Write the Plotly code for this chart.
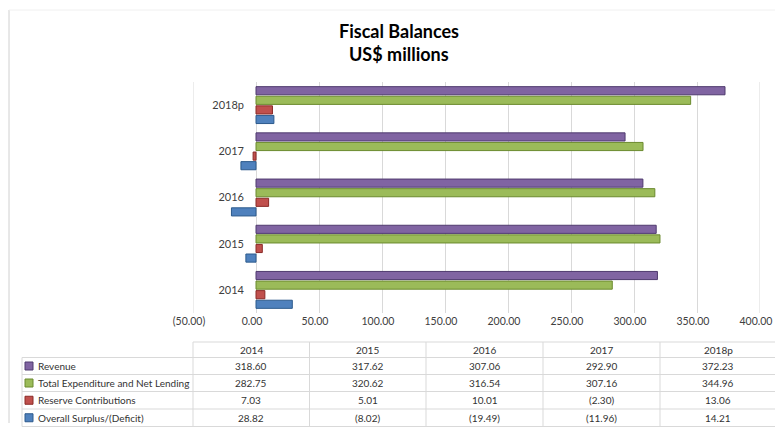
import plotly.graph_objects as go

# ---- data ----
years = ["2014", "2015", "2016", "2017", "2018p"]
revenue = [318.60, 317.62, 307.06, 292.90, 372.23]
expenditure = [282.75, 320.62, 316.54, 307.16, 344.96]
reserve = [7.03, 5.01, 10.01, -2.30, 13.06]
surplus = [28.82, -8.02, -19.49, -11.96, 14.21]
series_names = ["Revenue", "Total Expenditure and Net Lending",
                "Reserve Contributions", "Overall Surplus/(Deficit)"]
x_ticks = [-50, 0, 50, 100, 150, 200, 250, 300, 350, 400]

# ---- styles ----
W, H = 775, 433
L, R, T, B = 193, 760, 82, 313
colors = ["#8064A2", "#9BBB59", "#C0504D", "#4F81BD"]
edges = ["#4F3A6E", "#6B8A2E", "#8A2A27", "#2C5A8C"]
FONT = "Lato"
TXT = "#404040"


def fmt(v):
    return f"({abs(v):.2f})" if v < 0 else f"{v:.2f}"


def px(xp):
    return (xp - L) / (R - L)


def py(yp):
    return (B - yp) / (B - T)


series = [revenue, expenditure, reserve, surplus]

fig = go.Figure()
# plotly places first trace lowest in a horizontal group -> add in reverse
for i in [3, 2, 1, 0]:
    fig.add_trace(go.Bar(
        y=years, x=series[i], orientation="h", name=series_names[i],
        marker=dict(color=colors[i], line=dict(color=edges[i], width=1)),
        showlegend=False,
    ))

fig.update_layout(
    width=W, height=H, autosize=False,
    margin=dict(l=L, r=W - R, t=T, b=H - B, autoexpand=False),
    paper_bgcolor="white", plot_bgcolor="white",
    barmode="group", bargap=0.17, bargroupgap=0.15,
    font=dict(family=FONT, color=TXT, size=11),
    xaxis=dict(
        range=[-50, 400], tickvals=x_ticks, ticktext=[fmt(v) for v in x_ticks],
        showgrid=True, gridcolor="#d9d9d9", gridwidth=1,
        zeroline=True, zerolinecolor="#d9d9d9", zerolinewidth=1,
        showline=False, ticks="", tickfont=dict(size=10.5, color=TXT),
        ticklabeloverflow="allow", ticklabelshift=-4, automargin=False,
        fixedrange=True,
    ),
    yaxis=dict(
        type="category", categoryorder="array", categoryarray=years,
        anchor="free", position=px(256),
        showgrid=False, zeroline=False, showline=False, ticks="",
        ticklabelstandoff=12, automargin=False,
        tickfont=dict(size=11, color=TXT),
        fixedrange=True,
    ),
)

shapes = []
annots = []

# gridlines at the range edges
for xv in (x_ticks[0], x_ticks[-1]):
    shapes.append(dict(type="line", xref="x", yref="paper", x0=xv, x1=xv,
                       y0=0, y1=1, line=dict(color="#d9d9d9", width=1), layer="below"))

# title
annots.append(dict(text="<b>Fiscal Balances</b>", x=px(399), y=py(31),
                   xref="paper", yref="paper", showarrow=False,
                   font=dict(family=FONT, size=18, color="black"),
                   xanchor="center", yanchor="middle"))
annots.append(dict(text="<b>US$ millions</b>", x=px(399), y=py(54),
                   xref="paper", yref="paper", showarrow=False,
                   font=dict(family=FONT, size=18, color="black"),
                   xanchor="center", yanchor="middle"))

# outer frame (left & top)
shapes.append(dict(type="line", xref="paper", yref="paper",
                   x0=px(9), x1=px(9), y0=py(10), y1=py(423),
                   line=dict(color="#d0d0d0", width=1)))
shapes.append(dict(type="line", xref="paper", yref="paper",
                   x0=px(9), x1=px(775), y0=py(10), y1=py(10),
                   line=dict(color="#f0f0f0", width=1)))

# data table
grid = "#d9d9d9"
col_edges = [193, 309.5, 426, 543, 660, 776]
row_edges = [342, 357.5, 374.5, 391.5, 409, 426.5]
shapes.append(dict(type="line", xref="paper", yref="paper",
                   x0=px(193), x1=px(776), y0=py(row_edges[0]), y1=py(row_edges[0]),
                   line=dict(color=grid, width=1)))
for ry in row_edges[1:]:
    shapes.append(dict(type="line", xref="paper", yref="paper",
                       x0=px(22), x1=px(776), y0=py(ry), y1=py(ry),
                       line=dict(color=grid, width=1)))
shapes.append(dict(type="line", xref="paper", yref="paper",
                   x0=px(22), x1=px(22), y0=py(row_edges[1]), y1=py(row_edges[-1]),
                   line=dict(color=grid, width=1)))
for cx in col_edges[:-1]:
    shapes.append(dict(type="line", xref="paper", yref="paper",
                       x0=px(cx), x1=px(cx), y0=py(row_edges[0]), y1=py(row_edges[-1]),
                       line=dict(color=grid, width=1)))

col_centers = [(col_edges[j] + col_edges[j + 1]) / 2 for j in range(5)]
row_centers = [(row_edges[k] + row_edges[k + 1]) / 2 for k in range(5)]
tfont = dict(family=FONT, size=10, color="#333333")

for j, yr in enumerate(years):
    annots.append(dict(text=yr, x=px(col_centers[j]), y=py(row_centers[0]),
                       xref="paper", yref="paper", showarrow=False, font=tfont,
                       xanchor="center", yanchor="middle"))
for k, (name, vals) in enumerate(zip(series_names, series)):
    yc = row_centers[k + 1]
    shapes.append(dict(type="rect", xref="paper", yref="paper",
                       x0=px(25), x1=px(33), y0=py(yc + 4), y1=py(yc - 4),
                       fillcolor=colors[k], line=dict(color=edges[k], width=1)))
    annots.append(dict(text=name, x=px(36), y=py(yc), xref="paper", yref="paper",
                       showarrow=False, font=tfont, xanchor="left", yanchor="middle"))
    for j, v in enumerate(vals):
        annots.append(dict(text=fmt(v), x=px(col_centers[j]), y=py(yc),
                           xref="paper", yref="paper", showarrow=False, font=tfont,
                           xanchor="center", yanchor="middle"))

fig.update_layout(shapes=shapes, annotations=annots)
fig.write_html(
    "out.html", config={"displayModeBar": False},
    post_script=("document.body.style.margin='0px';"
                 "document.body.style.overflow='hidden';"
                 "document.documentElement.style.overflow='hidden';"),
)
